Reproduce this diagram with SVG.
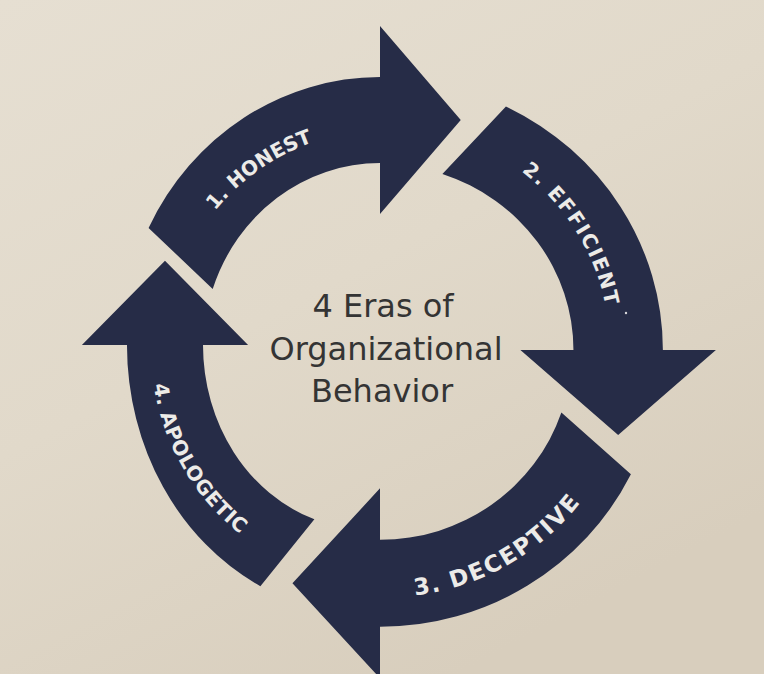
<svg xmlns="http://www.w3.org/2000/svg" xmlns:xlink="http://www.w3.org/1999/xlink" width="764" height="674" viewBox="0 0 764 674">
  <defs>
    <linearGradient id="bg" x1="0" y1="0" x2="0.6" y2="1">
      <stop offset="0" stop-color="#e6dfd2"/>
      <stop offset="0.5" stop-color="#e1d9ca"/>
      <stop offset="1" stop-color="#d8cebd"/>
    </linearGradient>
    <path id="arrowShape" d="M142.4,228.9 A272,272 0 0 1 386,78 L386,27 L471,121 L386,215 L386,164 A186,186 0 0 0 209.9,290 Z"/>
    <path id="p1" d="M172.9,293.6 A220,220 0 0 1 405.2,130.8"/>
    <path id="p2" d="M455.8,137 A224,224 0 0 1 607.8,381.2"/>
    <path id="p3" d="M341,592.9 A247,247 0 0 0 617.4,436.5"/>
    <path id="p4" d="M154.6,309.2 A235,235 0 0 0 306.4,570.8"/>
  </defs>
  <style>
    .arrow { fill: #262c47; }
    .label { font-family: "DejaVu Sans", "Liberation Sans", sans-serif; font-weight: bold; fill: #ecebe8; }
    .center { font-family: "DejaVu Sans", "Liberation Sans", sans-serif; font-size: 32px; fill: #343434; text-anchor: middle; }
  </style>
  <rect x="0" y="0" width="764" height="674" fill="url(#bg)"/>

  <g id="connectors"></g>

  <g id="honest">
    <use xlink:href="#arrowShape" href="#arrowShape" class="arrow" transform="matrix(0.95,0,0,1,13.3,-1)"/>
    <text class="label" font-size="20" letter-spacing="0"><textPath xlink:href="#p1" href="#p1" startOffset="50%" text-anchor="middle">1. HONEST</textPath></text>
  </g>

  <g id="efficient">
    <use xlink:href="#arrowShape" href="#arrowShape" class="arrow" transform="matrix(1.04,0,0,1,-21.44,0) rotate(90 386 350)"/>
    <text class="label" font-size="20" letter-spacing="1.7"><textPath xlink:href="#p2" href="#p2" startOffset="50%" text-anchor="middle">2. EFFICIENT</textPath></text>
    <circle cx="626" cy="313" r="1.2" fill="#d8d8dc"/>
  </g>

  <g id="deceptive">
    <use xlink:href="#arrowShape" href="#arrowShape" class="arrow" transform="matrix(1.03,0,0,1.01,-17.58,-1.5) rotate(180 386 350)"/>
    <text class="label" font-size="23" letter-spacing="1.8"><textPath xlink:href="#p3" href="#p3" startOffset="50%" text-anchor="middle">3. DECEPTIVE</textPath></text>
  </g>

  <g id="apologetic">
    <use xlink:href="#arrowShape" href="#arrowShape" class="arrow" transform="matrix(0.884,0,0,0.99,26.2,-1.5) rotate(270 386 350)"/>
    <text class="label" font-size="20" letter-spacing="0.5"><textPath xlink:href="#p4" href="#p4" startOffset="50%" text-anchor="middle">4. APOLOGETIC</textPath></text>
  </g>

  <g id="title">
    <text class="center" x="383" y="317">4 Eras of</text>
    <text class="center" x="386" y="360">Organizational</text>
    <text class="center" x="382" y="402">Behavior</text>
  </g>
</svg>
